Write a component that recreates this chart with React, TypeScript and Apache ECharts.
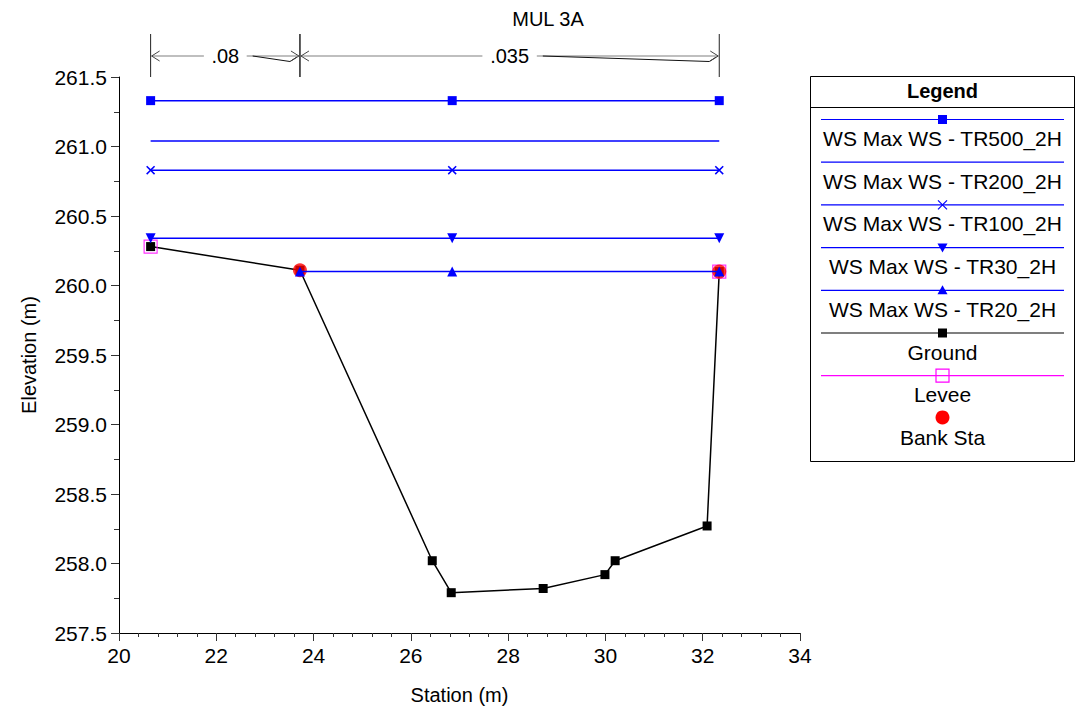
import React, { useEffect, useRef } from "react";
import * as echarts from "echarts";

// ---------- data ----------
const chartTitle = "MUL 3A";
const wsNames = [
  "WS Max WS - TR500_2H",
  "WS Max WS - TR200_2H",
  "WS Max WS - TR100_2H",
  "WS Max WS - TR30_2H",
  "WS Max WS - TR20_2H",
];
const wsElev = [261.33, 261.04, 260.83, 260.34, 260.1];
const wsStationsFull = [20.65, 26.85, 32.34];
const wsStationsTR200 = [20.65, 32.34];
const wsStationsTR20 = [23.72, 26.85, 32.34];

const groundStation = [20.65, 23.72, 26.44, 26.83, 28.72, 29.99, 30.2, 32.09, 32.34];
const groundElev = [260.28, 260.11, 258.02, 257.79, 257.82, 257.92, 258.02, 258.27, 260.1];

const leveeStation = [20.65, 32.34];
const leveeElev = [260.28, 260.1];

const bankStation = [23.72, 32.34];
const bankElev = [260.11, 260.1];

const nRegionStart = [20.65, 23.72];
const nRegionEnd = [23.72, 32.34];
const nValues = [".08", ".035"];

const xMin = 20, xMax = 34, xInterval = 2;
const yMin = 257.5, yMax = 261.5, yInterval = 0.5;

const FONT = '"Liberation Sans", Arial, sans-serif';
const BLUE = "#0000ff";
const CROSS = "path://M0,1.2L1.2,0L5,3.8L8.8,0L10,1.2L6.2,5L10,8.8L8.8,10L5,6.2L1.2,10L0,8.8L3.8,5Z";

function pairs(xs: number[], ys: number[] | number) {
  return xs.map((x, i) => [x, Array.isArray(ys) ? ys[i] : ys]);
}

export default function App() {
  const ref = useRef<HTMLDivElement>(null);
  useEffect(() => {
    if (!ref.current) return;
    const chart = echarts.init(ref.current, null, { renderer: "svg" });

    const wsStations = [wsStationsFull, wsStationsTR200, wsStationsFull, wsStationsFull, wsStationsTR20];
    const wsSymbols: any[] = ["rect", "none", CROSS, "triangle", "triangle"];
    const wsSymbolSize = [9, 0, 9, 10, 10];
    const wsRotate = [0, 0, 0, 180, 0];

    const wsSeries = wsNames.map((name, i) => ({
      name,
      type: "line",
      data: pairs(wsStations[i], wsElev[i]),
      symbol: wsSymbols[i],
      symbolSize: wsSymbolSize[i],
      symbolRotate: wsRotate[i],
      showSymbol: wsSymbols[i] !== "none",
      lineStyle: { color: BLUE, width: 1.5 },
      itemStyle: { color: BLUE },
      z: 6,
    }));

    const annotData = nValues.map((v, i) => [nRegionStart[i], nRegionEnd[i], i]);

    // legend (drawn as graphic)
    const lx0 = 821, lx1 = 1064, lcx = 942.5;
    const legendEls: any[] = [
      { type: "rect", shape: { x: 810.5, y: 76.5, width: 264, height: 385 }, style: { fill: "#fff", stroke: "#000", lineWidth: 1 } },
      { type: "line", shape: { x1: 810.5, y1: 107.5, x2: 1074.5, y2: 107.5 }, style: { stroke: "#000", lineWidth: 1 } },
      { type: "text", style: { text: "Legend", x: lcx, y: 91, align: "center", verticalAlign: "middle", font: `bold 20px ${FONT}`, fill: "#000" } },
    ];
    const legendNames = [...wsNames, "Ground", "Levee", "Bank Sta"];
    legendNames.forEach((name, i) => {
      const ly = 119.5 + i * 42.7;
      const ty = ly + 19;
      if (i < 7) {
        const col = i < 5 ? BLUE : i === 5 ? "#000" : "#ff00ff";
        legendEls.push({ type: "line", shape: { x1: lx0, y1: ly, x2: lx1, y2: ly }, style: { stroke: col, lineWidth: 1.2 } });
      }
      if (i === 0 || i === 5) {
        legendEls.push({ type: "rect", shape: { x: lcx - 4.5, y: ly - 4.5, width: 9, height: 9 }, style: { fill: i === 0 ? BLUE : "#000" } });
      } else if (i === 2) {
        legendEls.push({ type: "line", shape: { x1: lcx - 4.5, y1: ly - 4.5, x2: lcx + 4.5, y2: ly + 4.5 }, style: { stroke: BLUE, lineWidth: 1.3 } });
        legendEls.push({ type: "line", shape: { x1: lcx - 4.5, y1: ly + 4.5, x2: lcx + 4.5, y2: ly - 4.5 }, style: { stroke: BLUE, lineWidth: 1.3 } });
      } else if (i === 3) {
        legendEls.push({ type: "polygon", shape: { points: [[lcx - 5, ly - 4], [lcx + 5, ly - 4], [lcx, ly + 5]] }, style: { fill: BLUE } });
      } else if (i === 4) {
        legendEls.push({ type: "polygon", shape: { points: [[lcx - 5, ly + 4], [lcx + 5, ly + 4], [lcx, ly - 5]] }, style: { fill: BLUE } });
      } else if (i === 6) {
        legendEls.push({ type: "rect", shape: { x: lcx - 6.5, y: ly - 6.5, width: 13, height: 13 }, style: { fill: "none", stroke: "#ff00ff", lineWidth: 1.2 } });
      } else if (i === 7) {
        legendEls.push({ type: "circle", shape: { cx: lcx, cy: ly - 1, r: 7 }, style: { fill: "#ff0000" } });
      }
      legendEls.push({ type: "text", style: { text: name, x: lcx, y: ty, align: "center", verticalAlign: "middle", font: `21px ${FONT}`, fill: "#000" } });
    });

    const option: any = {
      animation: false,
      backgroundColor: "#fff",
      textStyle: { fontFamily: FONT },
      grid: { left: 119, right: 278, top: 77, bottom: 82, containLabel: false },
      xAxis: {
        type: "value",
        min: xMin,
        max: xMax,
        interval: xInterval,
        name: "Station (m)",
        nameLocation: "middle",
        nameGap: 52,
        nameTextStyle: { fontSize: 20, color: "#000", fontFamily: FONT },
        axisLine: { lineStyle: { color: "#000", width: 1 } },
        axisTick: { show: true, length: 8, lineStyle: { color: "#333" } },
        minorTick: { show: true, splitNumber: 5, length: 4, lineStyle: { color: "#333" } },
        splitLine: { show: false },
        axisLabel: { fontSize: 21, color: "#000", margin: 12, fontFamily: FONT },
      },
      yAxis: {
        type: "value",
        min: yMin,
        max: yMax,
        interval: yInterval,
        name: "Elevation (m)",
        nameLocation: "middle",
        nameGap: 80,
        nameTextStyle: { fontSize: 20, color: "#000", fontFamily: FONT },
        axisLine: { show: true, lineStyle: { color: "#000", width: 1 } },
        axisTick: { show: true, length: 8, lineStyle: { color: "#333" } },
        minorTick: { show: true, splitNumber: 2, length: 5, lineStyle: { color: "#333" } },
        splitLine: { show: false },
        axisLabel: { fontSize: 21, color: "#000", margin: 12, fontFamily: FONT, formatter: (v: number) => v.toFixed(1) },
      },
      graphic: [
        { type: "text", style: { text: chartTitle, x: 548, y: 19, align: "center", verticalAlign: "middle", font: `20px ${FONT}`, fill: "#000" } },
        ...legendEls,
      ],
      series: [
        {
          name: "Ground",
          type: "line",
          data: pairs(groundStation, groundElev),
          symbol: "rect",
          symbolSize: 9,
          lineStyle: { color: "#000", width: 1.5 },
          itemStyle: { color: "#000" },
          z: 2,
        },
        {
          name: "Levee",
          type: "scatter",
          data: pairs(leveeStation, leveeElev),
          symbol: "rect",
          symbolSize: 13,
          itemStyle: { color: "rgba(0,0,0,0)", borderColor: "#ff00ff", borderWidth: 1.2 },
          z: 3,
        },
        {
          name: "Bank Sta",
          type: "scatter",
          data: pairs(bankStation, bankElev),
          symbol: "circle",
          symbolSize: 14,
          itemStyle: { color: "#ff0000" },
          z: 4,
        },
        ...wsSeries,
        {
          name: "n values",
          type: "custom",
          clip: false,
          silent: true,
          z: 10,
          encode: { x: [0, 1] },
          data: annotData,
          renderItem: (params: any, api: any) => {
            const idx = api.value(2);
            const p0 = api.coord([api.value(0), yMax]);
            const p1 = api.coord([api.value(1), yMax]);
            const top = p0[1];
            const y = top - 21;
            const label = nValues[idx];
            const cx = (p0[0] + p1[0]) / 2;
            const halfW = label.length * 5.8 + 4;
            const gray = "#808080";
            return {
              type: "group",
              children: [
                { type: "line", shape: { x1: p0[0], y1: top - 43, x2: p0[0], y2: top }, style: { stroke: "#222", lineWidth: 1 } },
                { type: "line", shape: { x1: p1[0], y1: top - 43, x2: p1[0], y2: top }, style: { stroke: "#222", lineWidth: 1 } },
                { type: "line", shape: { x1: p0[0] + 1, y1: y, x2: cx - halfW, y2: y }, style: { stroke: gray, lineWidth: 1.2 } },
                { type: "line", shape: { x1: cx + halfW, y1: y, x2: p1[0] - 1, y2: y }, style: { stroke: gray, lineWidth: 1.2 } },
                { type: "polyline", shape: { points: [[cx + halfW + 6, y], [p1[0] - 10, y + 5.5], [p1[0] - 3, y + 1]] }, style: { stroke: "#111", lineWidth: 1, fill: "none" } },
                { type: "polyline", shape: { points: [[p0[0] + 9, y - 5], [p0[0] + 1, y], [p0[0] + 9, y + 5]] }, style: { stroke: "#444", lineWidth: 1, fill: "none" } },
                { type: "polyline", shape: { points: [[p1[0] - 9, y - 5], [p1[0] - 1, y], [p1[0] - 9, y + 5]] }, style: { stroke: "#444", lineWidth: 1, fill: "none" } },
                { type: "text", style: { text: label, x: cx, y: y, align: "center", verticalAlign: "middle", font: `20px ${FONT}`, fill: "#000" } },
              ],
            };
          },
        },
      ],
    };
    chart.setOption(option);
    return () => chart.dispose();
  }, []);
  return <div ref={ref} style={{ position: "fixed", left: 0, top: 0, width: 1078, height: 715, background: "#fff" }} />;
}
